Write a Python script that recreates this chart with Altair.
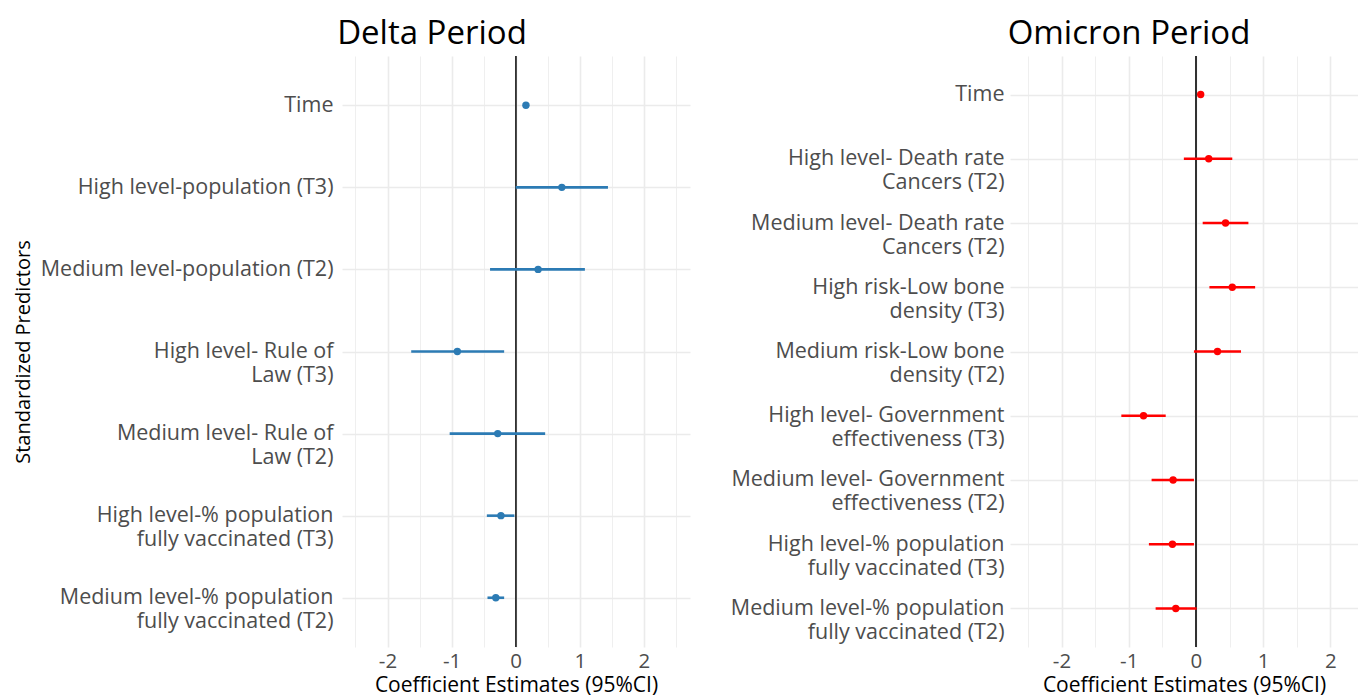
import altair as alt
import pandas as pd

# ---------------- data ----------------
delta_predictors = [
    "Time",
    "High level-population (T3)",
    "Medium level-population (T2)",
    "High level- Rule of|Law (T3)",
    "Medium level- Rule of|Law (T2)",
    "High level-% population|fully vaccinated (T3)",
    "Medium level-% population|fully vaccinated (T2)",
]
delta_est = [0.16, 0.72, 0.35, -0.91, -0.28, -0.23, -0.31]
delta_low = [0.14, 0.00, -0.40, -1.63, -1.03, -0.45, -0.44]
delta_high = [0.18, 1.44, 1.08, -0.18, 0.46, -0.02, -0.18]

omicron_predictors = [
    "Time",
    "High level- Death rate|Cancers (T2)",
    "Medium level- Death rate|Cancers (T2)",
    "High risk-Low bone|density (T3)",
    "Medium risk-Low bone|density (T2)",
    "High level- Government|effectiveness (T3)",
    "Medium level- Government|effectiveness (T2)",
    "High level-% population|fully vaccinated (T3)",
    "Medium level-% population|fully vaccinated (T2)",
]
omicron_est = [0.07, 0.19, 0.44, 0.54, 0.32, -0.78, -0.34, -0.35, -0.30]
omicron_low = [0.05, -0.18, 0.10, 0.20, -0.03, -1.11, -0.66, -0.70, -0.60]
omicron_high = [0.09, 0.54, 0.78, 0.88, 0.67, -0.45, -0.03, -0.03, 0.01]

x_ticks = [-2.5, -2, -1.5, -1, -0.5, 0, 0.5, 1, 1.5, 2, 2.5]

FONT = "Open Sans"
LABEL_GREY = "#4D4D4D"
GRID = "#EBEBEB"


def panel(pred, est, low, high, color, title, width, domain, title_dx,
          ytitle, yextent, ylabpad):
    df = pd.DataFrame({"predictor": pred, "est": est, "low": low, "high": high})
    x_scale = alt.Scale(domain=domain, nice=False, zero=False)
    x_axis = alt.Axis(
        values=x_ticks,
        labelExpr="datum.value % 1 == 0 ? toString(datum.value) : ''",
        grid=True,
        gridColor=GRID,
        gridWidth={"condition": {"test": "datum.value % 1 == 0", "value": 1.6},
                   "value": 0.8},
        ticks=False,
        domain=False,
        labelFontSize=20.5,
        labelColor=LABEL_GREY,
        labelPadding=4,
        title="Coefficient Estimates (95%CI)",
        titleFontSize=21,
        titleFontWeight="normal",
        titleColor="#000000",
        titlePadding=3,
    )
    y_axis = alt.Axis(
        labelExpr="split(datum.label, '|')",
        grid=True,
        gridColor=GRID,
        gridWidth=1.6,
        ticks=False,
        domain=False,
        labelFontSize=21.5,
        labelColor=LABEL_GREY,
        labelLineHeight=24,
        labelPadding=ylabpad,
        labelLimit=400,
        minExtent=yextent,
        maxExtent=yextent,
        title=ytitle,
        titleFontSize=20,
        titleFontWeight="normal",
        titleColor="#000000",
        titlePadding=4,
    )
    y_enc = alt.Y("predictor:N", sort=pred,
                  scale=alt.Scale(type="point", padding=0.6), axis=y_axis)
    base = alt.Chart(df)
    zero = base.mark_rule(color="#333333", strokeWidth=1.1).encode(
        x=alt.datum(0, scale=x_scale, axis=x_axis))
    ci = base.mark_rule(color=color, strokeWidth=2.6).encode(
        x=alt.X("low:Q", scale=x_scale, axis=x_axis),
        x2="high:Q",
        y=y_enc,
    )
    pts = base.mark_circle(color=color, opacity=1, size=55).encode(
        x=alt.X("est:Q", scale=x_scale, axis=x_axis),
        y=y_enc,
    )
    return alt.layer(zero, ci, pts).properties(
        width=width,
        height=591,
        title=alt.TitleParams(title, fontSize=33, fontWeight="normal",
                              font=FONT, color="#000000", anchor="middle",
                              frame="group", dx=title_dx, offset=4),
    )


left = panel(delta_predictors, delta_est, delta_low, delta_high, "#2C7BB4",
             "Delta Period", 348, [-2.71, 2.72], -84,
             "Standardized Predictors", 305, 9)
right = panel(omicron_predictors, omicron_est, omicron_low, omicron_high,
              "#FF0000", "Omicron Period", 348, [-2.766, 2.41], -55,
              None, 280, 6)

chart = alt.hconcat(left, right, spacing=40).configure(
    font=FONT, padding={"top": 10, "left": 5, "right": 0, "bottom": 0}
).configure_view(stroke=None)

chart.save("out.html", embed_options={"renderer": "svg", "actions": False})
